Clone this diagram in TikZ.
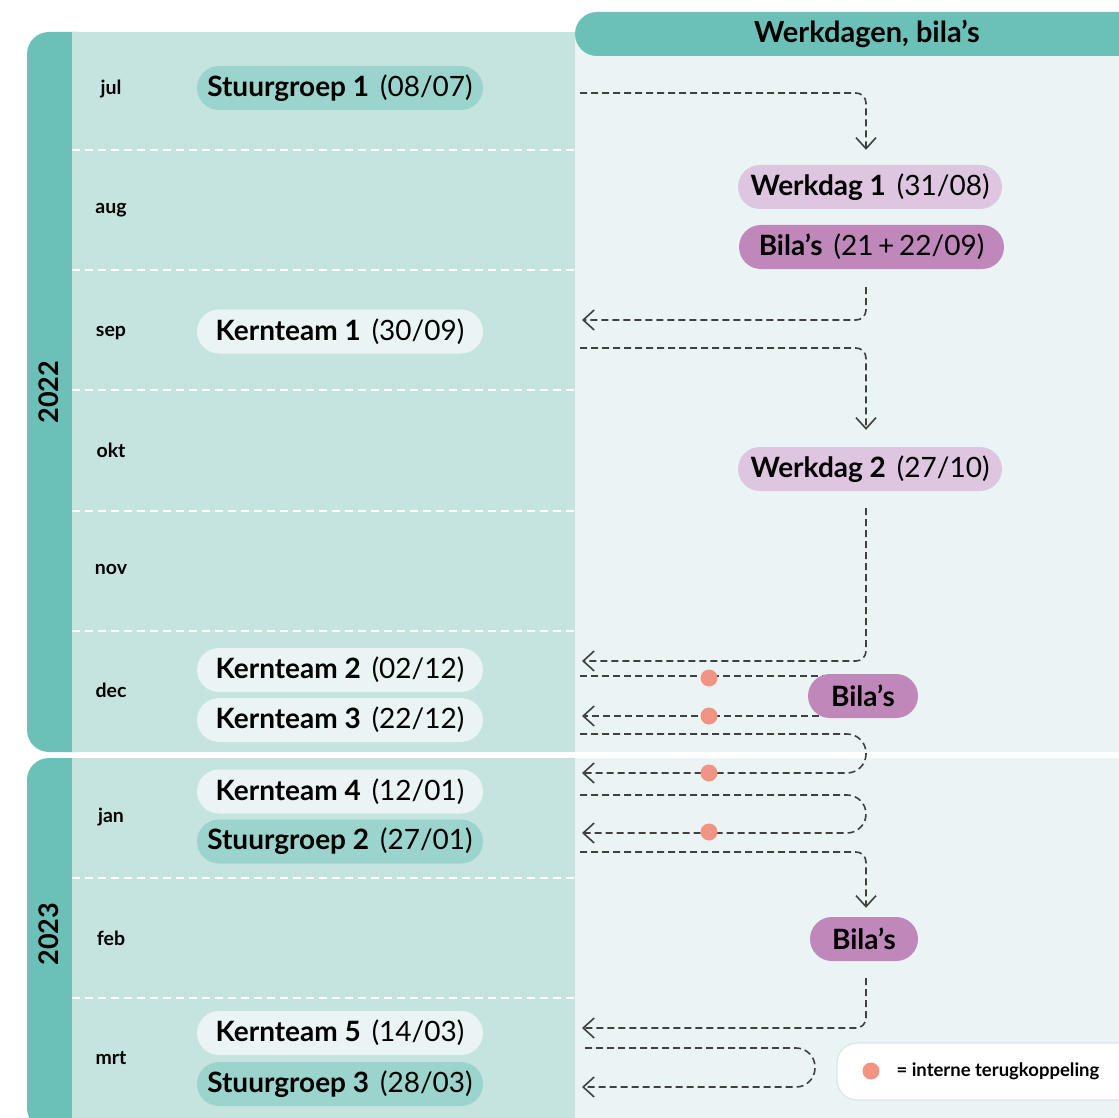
\documentclass[tikz,border=0pt]{standalone}
\usepackage{fontspec}
\setmainfont{Lato}
\usetikzlibrary{arrows.meta,calc}

\definecolor{yearbar}{HTML}{6BC1B7}
\definecolor{monthbg}{HTML}{C5E3DF}
\definecolor{panelbg}{HTML}{EAF4F4}
\definecolor{stuurfill}{HTML}{9AD4CC}
\definecolor{kernfill}{HTML}{EAF4F4}
\definecolor{werkfill}{HTML}{DEC5E0}
\definecolor{bilafill}{HTML}{BF87BA}
\definecolor{dotfill}{HTML}{F29483}
\definecolor{flowline}{HTML}{404040}
\definecolor{legborder}{HTML}{D3EAE6}

\pgfdeclarelayer{back}
\pgfdeclarelayer{mid}
\pgfsetlayers{back,mid,main}

\newcommand{\dgap}{\hspace{11pt}}

\tikzset{
  pill/.style={rounded corners=22pt, minimum height=44pt, inner sep=0pt,
    font=\fontsize{28}{28}\selectfont, text=black},
  leftpill/.style={pill, minimum width=286pt},
  stuur/.style={leftpill, fill=stuurfill},
  kern/.style={leftpill, fill=kernfill},
  werk/.style={pill, fill=werkfill, minimum width=264pt},
  bila/.style={pill, fill=bilafill},
  month/.style={font=\bfseries\fontsize{19.5}{19.5}\selectfont, text=black},
  yearlabel/.style={rotate=90, font=\bfseries\fontsize{27}{27}\selectfont, text=black},
  sep/.style={draw=white, line width=1.2pt, dash pattern=on 8pt off 5pt},
  flow/.style={draw=flowline, line width=1.6pt, dash pattern=on 7pt off 4pt, rounded corners=10pt},
  tip/.tip={Straight Barb[length=11pt,width=20pt,line width=1.6pt]},
  fbdot/.style={circle, fill=dotfill, minimum size=17pt, inner sep=0pt}
}

\begin{document}
\begin{tikzpicture}[x=1pt,y=-1pt]
\useasboundingbox (0,0) rectangle (1119,1118);

\begin{pgfonlayer}{back}
  \fill[white] (0,0) rectangle (1119,1118);
  % year bars and month areas
  \fill[yearbar, rounded corners=22pt] (27,32) rectangle (100,752);
  \fill[monthbg] (72,32) rectangle (575,752);
  \fill[yearbar, rounded corners=22pt] (27,758) rectangle (100,1130);
  \fill[monthbg] (72,758) rectangle (575,1118);
  % right panel
  \fill[panelbg] (575,32) rectangle (1119,752);
  \fill[panelbg] (575,758) rectangle (1119,1118);
  \fill[yearbar, rounded corners=22pt] (575,12) rectangle (1160,56);
  % month separators
  \foreach \yy in {150,270,390,511,631,878,998}
    \draw[sep] (72,\yy) -- (575,\yy);
\end{pgfonlayer}

% header
\node[font=\bfseries\fontsize{29}{29}\selectfont] (head) at (867,34) {Werkdagen, bila’s};

% years
\node[yearlabel] (y2022) at (49,392) {2022};
\node[yearlabel] (y2023) at (49,934) {2023};

% months
\node[month] (mjul) at (111,89) {jul};
\node[month] (maug) at (111,210) {aug};
\node[month] (msep) at (111,333) {sep};
\node[month] (mokt) at (111,450) {okt};
\node[month] (mnov) at (111,569) {nov};
\node[month] (mdec) at (111,690) {dec};
\node[month] (mjan) at (111,817) {jan};
\node[month] (mfeb) at (111,938) {feb};
\node[month] (mmrt) at (111,1058) {mrt};

% meetings
\node[stuur] (sg1) at (340,88)     {\textbf{Stuurgroep 1}\dgap(08/07)};
\node[kern]  (k1)  at (340,331.5)  {\textbf{Kernteam 1}\dgap(30/09)};
\node[kern]  (k2)  at (340,670)    {\textbf{Kernteam 2}\dgap(02/12)};
\node[kern]  (k3)  at (340,720)    {\textbf{Kernteam 3}\dgap(22/12)};
\node[kern]  (k4)  at (340,791.5)  {\textbf{Kernteam 4}\dgap(12/01)};
\node[stuur] (sg2) at (340,841.5)  {\textbf{Stuurgroep 2}\dgap(27/01)};
\node[kern]  (k5)  at (340,1033)   {\textbf{Kernteam 5}\dgap(14/03)};
\node[stuur] (sg3) at (340,1084)   {\textbf{Stuurgroep 3}\dgap(28/03)};

% workdays and bilateral talks
\node[werk] (wd1) at (870,187) {\textbf{Werkdag 1}\dgap(31/08)};
\node[bila, minimum width=265pt] (bl1) at (871.5,247) {\textbf{Bila’s}\dgap(21\,+\,22/09)};
\node[werk] (wd2) at (870,469) {\textbf{Werkdag 2}\dgap(27/10)};
\node[bila, minimum width=110pt] (bl2) at (863,696) {\textbf{Bila’s}};
\node[bila, minimum width=108pt] (bl3) at (864,939) {\textbf{Bila’s}};

% connector end points at the column edge
\coordinate (lane) at (866,0);
\coordinate (turn) at (815,0);
\coordinate (sg1o) at (580,93);
\coordinate (k1i)  at (582,320);
\coordinate (k1o)  at (580,348);
\coordinate (k2i)  at (582,661);
\coordinate (k2o)  at (580,676);
\coordinate (k3i)  at (582,716);
\coordinate (k3o)  at (580,734);
\coordinate (k4i)  at (582,773);
\coordinate (k4o)  at (580,795);
\coordinate (sg2i) at (582,833);
\coordinate (sg2o) at (580,852);
\coordinate (k5i)  at (582,1028);
\coordinate (k5o)  at (585,1048);
\coordinate (sg3i) at (582,1087);

\begin{pgfonlayer}{mid}
  \draw[flow,-{tip},shorten >=15pt] (sg1o) -| (wd1.north -| lane);
  \draw[flow,-{tip},shorten <=18pt] (bl1.south -| lane) |- (k1i);
  \draw[flow,-{tip},shorten >=17pt] (k1o) -| (wd2.north -| lane);
  \draw[flow,-{tip},shorten <=17pt] (wd2.south -| lane) |- (k2i);
  \draw[flow] (k2o) -- (k2o -| bl2.center);
  \draw[flow,-{tip}] (k3i -| bl2.center) -- (k3i);
  \draw[flow,-{tip},rounded corners=19pt] (k3o) -- (lane |- k3o) -- (lane |- k4i) -- (k4i);
  \draw[flow,-{tip},rounded corners=19pt] (k4o) -- (lane |- k4o) -- (lane |- sg2i) -- (sg2i);
  \draw[flow,-{tip},shorten >=9pt] (sg2o) -| (bl3.north -| lane);
  \draw[flow,-{tip},shorten <=17pt] (bl3.south -| lane) |- (k5i);
  \draw[flow,-{tip},rounded corners=19pt] (k5o) -- (turn |- k5o) -- (turn |- sg3i) -- (sg3i);
\end{pgfonlayer}

% internal feedback markers
\node[fbdot] (fb1) at (709,678) {};
\node[fbdot] (fb2) at (709,716) {};
\node[fbdot] (fb3) at (709,773) {};
\node[fbdot] (fb4) at (709,832) {};

% legend
\draw[fill=white, draw=legborder, line width=1.2pt, rounded corners=20pt] (837,1043) rectangle (1150,1100);
\node[fbdot] (legdot) at (871,1071) {};
\node[anchor=west, font=\bfseries\fontsize{18.5}{18.5}\selectfont] (legtext) at (893,1071) {= interne terugkoppeling};
\end{tikzpicture}
\end{document}
